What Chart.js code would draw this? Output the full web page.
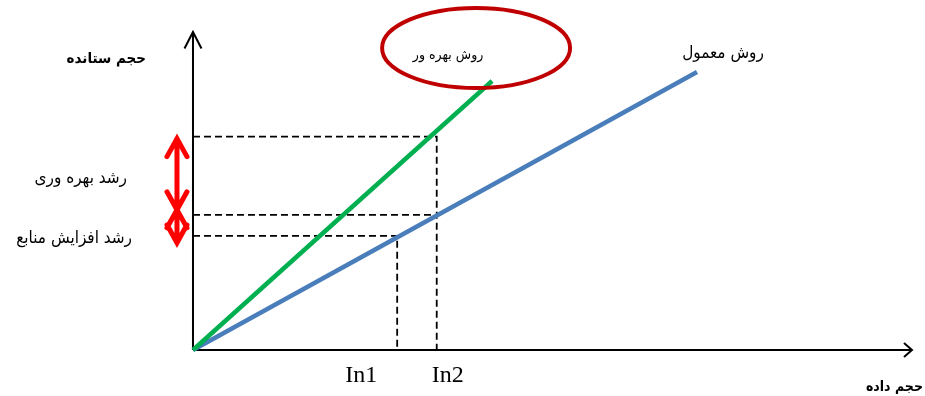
<!DOCTYPE html>
<html>
<head>
<meta charset="utf-8">
<script src="https://cdn.jsdelivr.net/npm/chart.js@4.4.1/dist/chart.umd.min.js"></script>
<style>
    html, body { margin: 0; padding: 0; background: #fff; }
    #wrap { width: 925px; height: 396px; position: relative; }
    canvas { display: block; }
</style>
</head>
<body>
<div id="wrap"><canvas id="growthChart" width="925" height="396"></canvas></div>
<script>
// values in abstract units, both axes run 0..100
const conventionalX = [0, 70.1];
const conventionalY = [0, 87.4];
const productiveX = [0, 41.6];
const productiveY = [0, 84.6];

const inputLabels = ['In1', 'In2'];
const inputValues = [28.4, 33.9];

// output levels: productive at In2, conventional at In2, conventional at In1
const outputLevels = [67.1, 42.5, 35.9];
const guideInputs = [33.9, 33.9, 28.4];

const axisMax = 100;
const seriesNames = ['روش معمول', 'روش بهره ور'];
const axisTitles = ['حجم داده', 'حجم ستانده'];
const growthLabels = ['رشد بهره وری', 'رشد افزایش منابع'];

(function () {
    const persianFont = '"DejaVu Sans Condensed", "DejaVu Sans", sans-serif';

    function points(xs, ys) {
        return xs.map((x, i) => ({ x: x, y: ys[i] }));
    }

    // one dashed guide per level; the drop to the x axis only once per input
    const guideSets = outputLevels.map((level, i) => {
        const x = guideInputs[i];
        const data = [{ x: 0, y: level }, { x: x, y: level }];
        if (guideInputs.indexOf(x) === i) data.push({ x: x, y: 0 });
        return {
            data: data,
            borderColor: '#000',
            borderWidth: 1.8,
            borderDash: [7, 4],
            showLine: true,
            pointRadius: 0,
            tension: 0
        };
    });

    const lineStyle = { showLine: true, pointRadius: 0, borderWidth: 4.5, tension: 0, borderCapStyle: 'butt' };

    const annotations = {
        id: 'annotations',
        afterDatasetsDraw(chart) {
            const ctx = chart.ctx;
            const sx = chart.scales.x, sy = chart.scales.y;
            const ox = sx.getPixelForValue(0), oy = sy.getPixelForValue(0);
            const xEnd = sx.getPixelForValue(axisMax), yEnd = sy.getPixelForValue(axisMax);

            ctx.save();
            // axis arrowheads
            ctx.strokeStyle = '#000';
            ctx.lineWidth = 2;
            ctx.beginPath();
            ctx.moveTo(ox - 8.5, yEnd + 16.5);
            ctx.lineTo(ox, yEnd);
            ctx.lineTo(ox + 8.5, yEnd + 16.5);
            ctx.moveTo(xEnd - 8, oy - 7);
            ctx.lineTo(xEnd, oy);
            ctx.lineTo(xEnd - 8, oy + 7);
            ctx.stroke();

            // input tick labels
            ctx.fillStyle = '#000';
            ctx.font = '24px "Liberation Serif", serif';
            ctx.textAlign = 'center';
            ctx.textBaseline = 'alphabetic';
            const labelShift = [-36, 11];
            inputLabels.forEach((label, i) => {
                ctx.fillText(label, sx.getPixelForValue(inputValues[i]) + labelShift[i], oy + 32);
            });

            // axis titles
            ctx.direction = 'rtl';
            ctx.textAlign = 'right';
            ctx.font = 'bold 14px ' + persianFont;
            ctx.fillText(axisTitles[0], xEnd + 11, oy + 41);
            ctx.font = 'bold 15px ' + persianFont;
            ctx.fillText(axisTitles[1], ox - 47, yEnd + 31);

            // growth labels and red arrows
            const lv = outputLevels.map(v => sy.getPixelForValue(v));
            ctx.font = '17px ' + persianFont;
            ctx.fillText(growthLabels[0], ox - 66, (lv[0] + lv[1]) / 2 + 7);
            ctx.fillText(growthLabels[1], ox - 61, lv[2] + 7);

            const ax = ox - 16;
            const split = lv[1] - 5;
            function doubleArrow(top, bottom) {
                ctx.beginPath();
                ctx.moveTo(ax, top);
                ctx.lineTo(ax, bottom);
                ctx.moveTo(ax - 10, top + 18);
                ctx.lineTo(ax, top);
                ctx.lineTo(ax + 10, top + 18);
                ctx.moveTo(ax - 10, bottom - 18);
                ctx.lineTo(ax, bottom);
                ctx.lineTo(ax + 10, bottom - 18);
                ctx.stroke();
            }
            ctx.strokeStyle = '#ff0000';
            ctx.lineWidth = 5;
            ctx.lineCap = 'round';
            doubleArrow(lv[0] + 2, split);
            doubleArrow(split, lv[2] + 7);

            // series labels
            const gx = sx.getPixelForValue(productiveX[1]), gy = sy.getPixelForValue(productiveY[1]);
            const bx = sx.getPixelForValue(conventionalX[1]), by = sy.getPixelForValue(conventionalY[1]);
            ctx.strokeStyle = '#c00000';
            ctx.lineWidth = 4;
            ctx.beginPath();
            ctx.ellipse(gx - 16, gy - 33, 94, 40, 0, 0, Math.PI * 2);
            ctx.stroke();

            ctx.textAlign = 'center';
            ctx.font = '14px ' + persianFont;
            ctx.fillText(seriesNames[1], gx - 44, gy - 22);
            ctx.font = '17px ' + persianFont;
            ctx.fillText(seriesNames[0], bx + 26, by - 14);
            ctx.restore();
        }
    };

    new Chart(document.getElementById('growthChart').getContext('2d'), {
        type: 'scatter',
        data: {
            datasets: [
                Object.assign({ data: points(productiveX, productiveY), borderColor: '#00b050' }, lineStyle),
                Object.assign({ data: points(conventionalX, conventionalY), borderColor: '#4a7ebb' }, lineStyle),
                { data: [{ x: 0, y: 0 }, { x: axisMax, y: 0 }], borderColor: '#000', borderWidth: 2, showLine: true, pointRadius: 0 },
                { data: [{ x: 0, y: 0 }, { x: 0, y: axisMax }], borderColor: '#000', borderWidth: 2, showLine: true, pointRadius: 0 },
                ...guideSets
            ]
        },
        options: {
            responsive: false,
            animation: false,
            layout: { padding: 0 },
            plugins: { legend: { display: false }, tooltip: { enabled: false } },
            scales: {
                x: { type: 'linear', display: false, min: -26.84, max: 101.81 },
                y: { type: 'linear', display: false, min: -14.47, max: 110.06 }
            },
            elements: { line: { fill: false } }
        },
        plugins: [annotations]
    });
})();
</script>
</body>
</html>
